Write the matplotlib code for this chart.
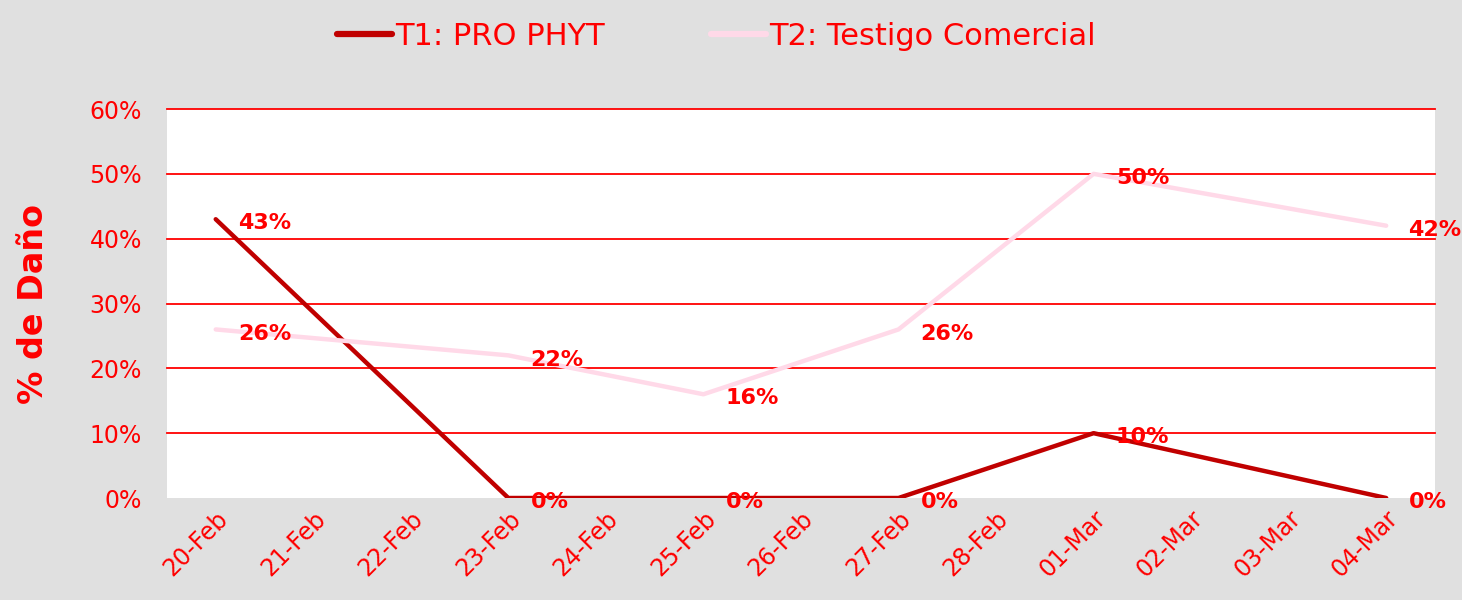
import matplotlib.pyplot as plt
from matplotlib.ticker import PercentFormatter

dates = ['20-Feb', '21-Feb', '22-Feb', '23-Feb', '24-Feb', '25-Feb', '26-Feb',
         '27-Feb', '28-Feb', '01-Mar', '02-Mar', '03-Mar', '04-Mar']
sample_dates = ['20-Feb', '23-Feb', '25-Feb', '27-Feb', '01-Mar', '04-Mar']
t1 = [43, 0, 0, 0, 10, 0]
t2 = [26, 22, 16, 26, 50, 42]

red = '#FF0000'
bg = '#E0E0E0'

fig = plt.figure(figsize=(14.62, 6), dpi=100, facecolor=bg)
ax = fig.add_axes([0.1142, 0.17, 0.8673, 0.6483])
ax.set_facecolor('white')

xs = [dates.index(d) for d in sample_dates]
ax.plot(xs, t1, color='#C00000', lw=3.2, label='T1: PRO PHYT', solid_capstyle='round', zorder=3)
ax.plot(xs, t2, color='#FFD9E8', lw=3.2, label='T2: Testigo Comercial', solid_capstyle='round', zorder=3)

for x, v in zip(xs, t1):
    ax.annotate(f'{v}%', (x, v), xytext=(16, -3), textcoords='offset points',
                color=red, fontsize=16, fontweight='bold', va='center', ha='left', zorder=4)
for x, v in zip(xs, t2):
    ax.annotate(f'{v}%', (x, v), xytext=(16, -3), textcoords='offset points',
                color=red, fontsize=16, fontweight='bold', va='center', ha='left', zorder=4)

ax.set_xlim(-0.5, len(dates) - 0.5)
ax.set_ylim(0, 60)
ax.set_yticks(range(0, 61, 10))
ax.yaxis.set_major_formatter(PercentFormatter(decimals=0))
ax.set_xticks(range(len(dates)))
ax.set_xticklabels(dates, rotation=45, ha='right', rotation_mode='anchor')

for y in range(10, 61, 10):
    ax.axhline(y, color=red, lw=1.3, zorder=1, clip_on=False)

for s in ax.spines.values():
    s.set_visible(False)
ax.tick_params(axis='both', length=0, labelsize=17, labelcolor=red)
ax.tick_params(axis='y', pad=18)
ax.tick_params(axis='x', pad=6)

ax.set_ylabel('% de Daño', color=red, fontsize=24, fontweight='bold', labelpad=28)

leg = fig.legend(loc='upper center', bbox_to_anchor=(0.49, 1.01), ncol=2, frameon=False,
                 fontsize=22, labelcolor=red, handlelength=1.8, handletextpad=0.1,
                 columnspacing=3.5)
for line in leg.get_lines():
    line.set_linewidth(4.5)

fig.savefig('out.png', dpi=100, facecolor=bg)
